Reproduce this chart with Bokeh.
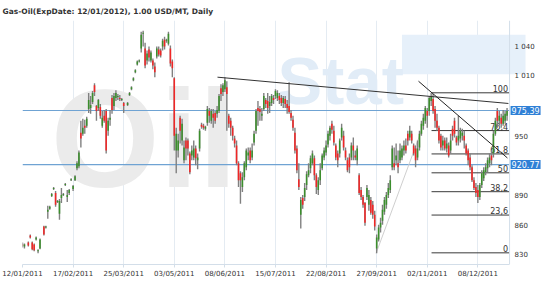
import numpy as np
from bokeh.plotting import figure
from bokeh.models import ColumnDataSource, Range1d, FixedTicker, Label, Span
from bokeh.embed import file_html
from bokeh.resources import INLINE
from bokeh.core.properties import value

N = None
# daily OHLC, index = trading day since 12/01/2011
opens = [840, 838, N, 842, 849, 842, 840, 845, 833, 836, N, 858, 857, 873, 876, 889, 896, 892, 883, 871,
         887, 890, 900, 888, 892, 905, 896, 905, 917, 919, 953, 952, 960, 960, 977, 978, 984, 1001, 980, 978,
         979, 960, 970, 975, 955, 966, 988, 980, 988, 989, 988, 986, 983, N, 981, 991, 997, 1006, 1014, 1022,
         1025, 1038, 1053, 1038, 1026, 1037, 1026, 1026, 1020, 1030, 1037, 1036, 1040, 1047, 1046, 1043, 1038, 1025, 1008, 935,
         935, 968, 945, 925, 945, 945, 932, 930, 928, 937, 925, 937, 961, 960, 957, 963, 975, 965, 972, 973,
         972, 975, 998, 994, 997, 999, 970, 965, 958, 947, 940, 922, 912, 898, 908, 918, 930, 935, 928, 943,
         955, 978, 977, 970, 977, 986, 985, 980, 983, 988, 990, 988, 990, 988, 983, 987, 982, 980, 973, 966,
         953, 937, 906, 870, 887, 888, 900, 910, 917, 922, 927, 910, 895, 905, 917, 928, 933, 941, 950, 962,
         955, 940, 932, 932, 948, 950, 935, 925, 928, 928, 940, 930, 925, 910, 895, 888, 882, 888, 880, 885,
         880, 870, 836, 845, 857, 864, 873, 880, 890, 895, 918, 922, 925, 922, 925, 928, 935, 940, 952, 948,
         952, 940, 937, 928, 938, 952, 960, 965, 975, 975, 985, 987, 977, 965, 958, 950, 940, 945, 937, 940,
         935, 957, 965, 948, 945, 947, 950, 950, 940, 935, 928, 918, 905, 898, 895, 888, 900, 907, 913, 917,
         922, 930, 932, 952, 975, 965, 968, 962, 965, 970]
highs = [842, 841, N, 843, 850, 843, 841, 848, 835, 846, N, 859, 859, 879, 879, 892, 898, 894, 885, 886,
         897, 892, 902, 895, 896, 907, 900, 910, 924, 935, 965, 967, 966, 969, 993, 990, 995, 1003, 981, 987,
         982, 975, 976, 977, 968, 976, 991, 993, 996, 992, 991, 988, 984, N, 984, 994, 1000, 1009, 1017, 1026,
         1027, 1055, 1056, 1044, 1036, 1040, 1036, 1028, 1024, 1040, 1040, 1038, 1048, 1050, 1048, 1055, 1041, 1027, 1009, 958,
         952, 970, 967, 945, 948, 947, 934, 940, 945, 940, 932, 957, 963, 962, 960, 980, 978, 977, 977, 975,
         980, 992, 1002, 1003, 1009, 1005, 972, 968, 960, 950, 945, 924, 914, 913, 924, 937, 938, 938, 942, 955,
         977, 985, 980, 978, 993, 988, 993, 990, 992, 991, 997, 996, 993, 991, 990, 990, 986, 1004, 976, 970,
         958, 940, 922, 888, 890, 902, 914, 922, 930, 935, 930, 912, 908, 922, 932, 938, 945, 955, 960, 965,
         960, 942, 935, 947, 962, 955, 938, 928, 932, 943, 948, 935, 940, 912, 898, 890, 883, 900, 895, 888,
         884, 874, 850, 860, 867, 880, 888, 893, 902, 910, 940, 938, 942, 935, 942, 940, 945, 947, 955, 960,
         955, 942, 940, 945, 955, 965, 972, 980, 978, 990, 993, 992, 980, 972, 960, 952, 950, 948, 948, 943,
         952, 960, 968, 950, 970, 958, 957, 955, 942, 937, 932, 920, 908, 902, 900, 902, 915, 918, 922, 928,
         932, 935, 955, 968, 978, 975, 972, 976, 975, 978]
lows = [837, 836, N, 838, 846, 834, 833, 844, 831, 835, N, 849, 856, 866, 875, 888, 895, 878, 882, 865,
        882, 889, 899, 883, 890, 904, 894, 904, 915, 917, 938, 950, 952, 958, 973, 972, 982, 990, 965, 975,
        967, 958, 963, 932, 950, 960, 972, 976, 985, 986, 985, 985, 973, N, 980, 990, 996, 1005, 1013, 1021,
        1024, 1034, 1040, 1018, 1022, 1025, 1024, 1017, 1009, 1028, 1030, 1029, 1036, 1037, 1044, 1041, 1020, 1009, 935, 912,
        928, 942, 940, 922, 925, 930, 911, 925, 925, 920, 916, 934, 957, 956, 955, 960, 963, 962, 958, 962,
        968, 973, 985, 990, 994, 955, 958, 950, 945, 938, 920, 898, 881, 893, 905, 915, 925, 922, 925, 940,
        952, 960, 965, 965, 975, 978, 972, 973, 980, 982, 987, 985, 982, 980, 978, 978, 972, 972, 965, 955,
        932, 912, 895, 856, 876, 884, 895, 908, 912, 920, 905, 891, 890, 900, 915, 925, 930, 938, 945, 952,
        940, 925, 918, 928, 945, 935, 925, 913, 912, 925, 925, 925, 920, 890, 885, 877, 859, 885, 874, 870,
        866, 854, 831, 843, 852, 860, 870, 876, 887, 892, 915, 915, 920, 912, 922, 925, 930, 932, 940, 945,
        942, 930, 918, 925, 935, 950, 956, 962, 958, 970, 980, 972, 958, 955, 942, 935, 935, 935, 933, 928,
        932, 945, 948, 940, 940, 943, 945, 937, 930, 920, 915, 903, 895, 888, 882, 885, 897, 904, 910, 913,
        918, 920, 928, 950, 958, 960, 958, 960, 962, 965]
closes = [839, 840, N, 839, 847, 835, 834, 847, 834, 845, N, 850, 858, 875, 878, 891, 897, 880, 884, 884,
          890, 891, 901, 890, 895, 906, 899, 909, 922, 933, 947, 958, 958, 967, 986, 981, 993, 994, 975, 986,
          970, 968, 965, 935, 965, 968, 976, 990, 993, 990, 987, 987, 980, N, 983, 993, 999, 1008, 1016, 1025,
          1026, 1052, 1054, 1021, 1033, 1029, 1034, 1021, 1014, 1038, 1032, 1031, 1046, 1040, 1047, 1053, 1023, 1018, 950, 952,
          945, 955, 962, 938, 937, 937, 913, 935, 937, 927, 928, 955, 959, 958, 959, 977, 970, 975, 968, 965,
          976, 990, 992, 1001, 1006, 992, 962, 958, 950, 942, 922, 905, 905, 908, 922, 935, 933, 925, 935, 952,
          975, 975, 974, 972, 990, 982, 978, 984, 990, 986, 995, 993, 986, 983, 988, 982, 978, 974, 968, 958,
          935, 915, 898, 885, 880, 897, 911, 915, 927, 932, 910, 898, 905, 915, 930, 935, 940, 952, 958, 956,
          943, 928, 925, 945, 958, 938, 928, 915, 918, 940, 935, 928, 937, 892, 888, 880, 862, 897, 890, 872,
          870, 858, 847, 857, 862, 875, 885, 890, 897, 905, 937, 918, 930, 918, 935, 937, 940, 935, 945, 955,
          945, 932, 925, 937, 952, 962, 968, 978, 970, 988, 990, 975, 965, 958, 945, 938, 945, 937, 942, 930,
          945, 950, 952, 943, 950, 955, 953, 945, 932, 925, 918, 905, 897, 892, 888, 900, 912, 915, 918, 925,
          928, 925, 952, 965, 965, 970, 962, 970, 972, 975]

tick_idx = [0, 26, 52, 78, 104, 130, 156, 182, 208, 234]
tick_dates = ["12/01/2011", "17/02/2011", "25/03/2011", "03/05/2011", "08/06/2011",
              "15/07/2011", "22/08/2011", "27/09/2011", "02/11/2011", "08/12/2011"]
price_ticks = [830, 860, 890, 950, 1010, 1040]
price_tick_labels = ["830", "860", "890", "950", "1 010", "1 040"]
level_values = [975.39, 920.77]
level_texts = ["975.39", "920.77"]
fib_low, fib_high = 831.5, 993.3
fib_pcts = [0, 23.6, 38.2, 50, 61.8, 76.4, 100]
fib_texts = ["0", "23,6", "38,2", "50", "61,8", "76,4", "100"]
fib_x = [210.2, 250.3]
trend_long_x, trend_long_y = [100.2, 249.7], [1009.1, 982.5]
trend_steep_x, trend_steep_y = [203.5, 249.2], [1005.0, 927.4]
trend_up_x, trend_up_y = [181.7, 205.0], [831.0, 955.0]
title_text = "Gas-Oil(ExpDate: 12/01/2012), 1.00 USD/MT, Daily"

X_END = 250.3          # right edge of the price area (data units)
o = np.array(opens, dtype=float)
h = np.array(highs, dtype=float)
l = np.array(lows, dtype=float)
c = np.array(closes, dtype=float)
idx = np.arange(len(o))
colors = ["#3b8e2c" if cc >= oo else "#f02626" for oo, cc in zip(o, c)]
src = ColumnDataSource(dict(x=idx, h=h, l=l, top=np.maximum(o, c), bottom=np.minimum(o, c), color=colors))

p = figure(width=550, height=290, output_backend="svg", toolbar_location=None,
           x_range=Range1d(0, 271.33), y_range=Range1d(819.7, 1066.4),
           y_axis_location=None,
           min_border_left=22, min_border_right=0, min_border_top=20, min_border_bottom=26,
           background_fill_color="white", border_fill_color="white",
           outline_line_color=None)

p.title.text = title_text
p.title.align = "left"
p.title.offset = -20
p.title.standoff = 9
p.title.text_font = "DejaVu Sans"
p.title.text_font_size = "7.5px"
p.title.text_font_style = "bold"
p.title.text_color = "#333333"

# watermark
p.text(x=[14.5], y=[947], text=["Oil"], text_font=value("Liberation Sans"), text_font_style="bold",
       text_font_size="140px", text_color="#ebebeb", text_baseline="alphabetic")
p.quad(left=[195], right=[258.5], bottom=[1012], top=[1052], fill_color="#e6f0fa", line_color=None)
p.text(x=[131], y=[1006], text=["Stat"], text_font=value("Liberation Sans"), text_font_style="bold",
       text_font_size="67px", text_color="#e1ecf7", text_baseline="alphabetic")

# right border of price area
p.add_layout(Span(location=X_END, dimension="height", line_color="#d3dee9", line_width=1))

for v in level_values:
    p.line(x=[0, X_END], y=[v, v], line_color="#6fa3d3", line_width=1.2)

fib_vals = [fib_low + pct / 100 * (fib_high - fib_low) for pct in fib_pcts]
for v in fib_vals:
    p.line(x=fib_x, y=[v, v], line_color="#3a3a3a", line_width=1)
p.text(x=[fib_x[1] - 0.8] * len(fib_vals), y=fib_vals, text=fib_texts, text_align="right",
       text_baseline="bottom", y_offset=-1, text_font=value("DejaVu Sans"), text_font_size="8px",
       text_color="#333333")

p.line(x=trend_up_x, y=trend_up_y, line_color="#cfcfcf", line_width=1)

p.segment(x0="x", y0="h", x1="x", y1="l", line_color="#808080", line_width=1.4, source=src)
p.vbar(x="x", width=0.8, top="top", bottom="bottom", fill_color="color", line_color=None, source=src)

p.line(x=trend_long_x, y=trend_long_y, line_color="#333333", line_width=1)
p.line(x=trend_steep_x, y=trend_steep_y, line_color="#222222", line_width=1)

# price scale on the right
p.text(x=[X_END] * len(price_ticks), y=price_ticks, text=price_tick_labels, x_offset=5,
       text_align="left", text_baseline="middle", text_font=value("DejaVu Sans"),
       text_font_size="7px", text_color="#333333")

for v, t in zip(level_values, level_texts):
    p.add_layout(Label(x=X_END, y=v, x_offset=1, text=t, text_color="white", text_font="DejaVu Sans",
                       text_font_size="8px", text_baseline="middle", text_align="left",
                       background_fill_color="#2f80d6", padding=1))

p.xaxis.ticker = FixedTicker(ticks=tick_idx)
p.xaxis.bounds = (0, X_END)
p.xaxis.major_label_overrides = {i: d for i, d in zip(tick_idx, tick_dates)}
p.xaxis.major_label_text_font = "DejaVu Sans"
p.xaxis.major_label_text_font_size = "7px"
p.xaxis.major_label_text_color = "#333333"
p.xaxis.axis_line_color = "#d3dee9"
p.xaxis.major_tick_line_color = "#d3dee9"
p.xaxis.major_tick_out = 3
p.xaxis.major_tick_in = 0
p.xaxis.minor_tick_line_color = None
p.xaxis.major_label_standoff = 2

p.xgrid.ticker = FixedTicker(ticks=tick_idx)
p.xgrid.grid_line_color = "#e4ebf2"
p.ygrid.grid_line_color = None

open("out.html", "w").write(file_html(p, INLINE))
